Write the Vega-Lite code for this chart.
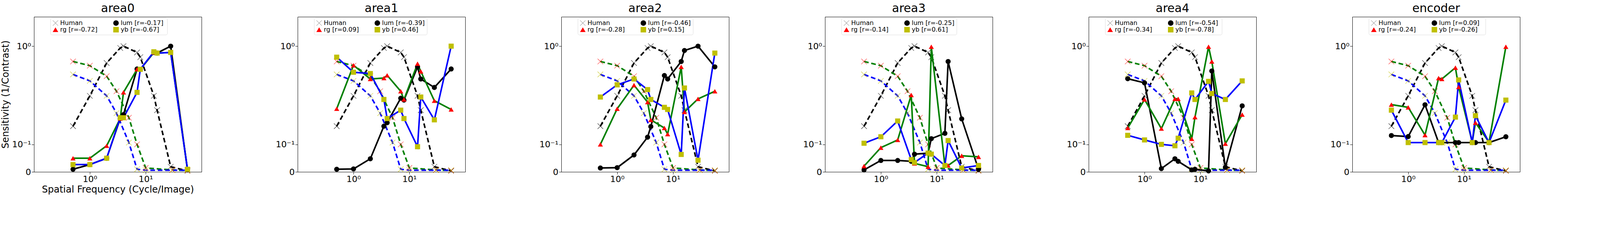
{
"$schema":"https://vega.github.io/schema/vega-lite/v6.json",
"padding":{"left":2,"top":6,"right":0,"bottom":0},
"background":"white",
"config":{"font":"DejaVu Sans","view":{"stroke":"black","strokeWidth":1},"axis":{"grid":false,"domainColor":"black","tickColor":"black","labelColor":"black","titleColor":"black","labelFont":"DejaVu Sans","titleFont":"DejaVu Sans","titleFontWeight":"normal","labelFontSize":22,"titleFontSize":24,"tickSize":6},"title":{"font":"DejaVu Sans","fontSize":30,"fontWeight":"normal","color":"black","offset":6},"legend":{"labelFont":"DejaVu Sans"}},
"spacing":188,
"resolve":{"scale":{"fill":"independent","shape":"independent","stroke":"independent"},"legend":{"fill":"independent","shape":"independent"}},
"datasets":{
"human":[
{"ch":"lum","f":0.5,"v":0.19},{"ch":"lum","f":1,"v":0.40},{"ch":"lum","f":2,"v":0.75},{"ch":"lum","f":3.5,"v":0.97},{"ch":"lum","f":4,"v":1.0},{"ch":"lum","f":7,"v":0.9},{"ch":"lum","f":8,"v":0.83},{"ch":"lum","f":14,"v":0.40},{"ch":"lum","f":16,"v":0.29},{"ch":"lum","f":28,"v":0.016},{"ch":"lum","f":56,"v":0.003},
{"ch":"rg","f":0.5,"v":0.77},{"ch":"rg","f":1,"v":0.715},{"ch":"rg","f":2,"v":0.59},{"ch":"rg","f":3,"v":0.44},{"ch":"rg","f":5,"v":0.24},{"ch":"rg","f":7,"v":0.1},{"ch":"rg","f":10,"v":0.012},{"ch":"rg","f":30,"v":0.006},{"ch":"rg","f":56,"v":0.004},
{"ch":"yb","f":0.5,"v":0.61},{"ch":"yb","f":1,"v":0.54},{"ch":"yb","f":2,"v":0.40},{"ch":"yb","f":3,"v":0.27},{"ch":"yb","f":5,"v":0.108},{"ch":"yb","f":7,"v":0.008},{"ch":"yb","f":10,"v":0.005},{"ch":"yb","f":30,"v":0.005},{"ch":"yb","f":56,"v":0.005}
],
"model":[
{"p":"area0","ch":"lum","f":0.5,"v":0.008},{"p":"area0","ch":"lum","f":1,"v":0.023},{"p":"area0","ch":"lum","f":2,"v":0.045},{"p":"area0","ch":"lum","f":3.5,"v":0.235},{"p":"area0","ch":"lum","f":4,"v":0.26},{"p":"area0","ch":"lum","f":7,"v":0.674},{"p":"area0","ch":"lum","f":8,"v":0.67},{"p":"area0","ch":"lum","f":14,"v":0.9},{"p":"area0","ch":"lum","f":16,"v":0.89},{"p":"area0","ch":"lum","f":28,"v":1.0},{"p":"area0","ch":"lum","f":56,"v":0.006},
{"p":"area0","ch":"rg","f":0.5,"v":0.045},{"p":"area0","ch":"rg","f":1,"v":0.045},{"p":"area0","ch":"rg","f":2,"v":0.094},{"p":"area0","ch":"rg","f":3.5,"v":0.235},{"p":"area0","ch":"rg","f":4,"v":0.43},{"p":"area0","ch":"rg","f":7,"v":0.67},{"p":"area0","ch":"rg","f":8,"v":0.67},{"p":"area0","ch":"rg","f":14,"v":0.9},{"p":"area0","ch":"rg","f":16,"v":0.89},{"p":"area0","ch":"rg","f":28,"v":0.9},{"p":"area0","ch":"rg","f":56,"v":0.008},
{"p":"area0","ch":"yb","f":0.5,"v":0.023},{"p":"area0","ch":"yb","f":1,"v":0.023},{"p":"area0","ch":"yb","f":2,"v":0.045},{"p":"area0","ch":"yb","f":3.5,"v":0.24},{"p":"area0","ch":"yb","f":4,"v":0.24},{"p":"area0","ch":"yb","f":7,"v":0.43},{"p":"area0","ch":"yb","f":8,"v":0.67},{"p":"area0","ch":"yb","f":14,"v":0.91},{"p":"area0","ch":"yb","f":16,"v":0.89},{"p":"area0","ch":"yb","f":28,"v":0.9},{"p":"area0","ch":"yb","f":56,"v":0.008},
{"p":"area1","ch":"lum","f":0.5,"v":0.008},{"p":"area1","ch":"lum","f":1,"v":0.009},{"p":"area1","ch":"lum","f":2,"v":0.043},{"p":"area1","ch":"lum","f":3.5,"v":0.19},{"p":"area1","ch":"lum","f":4,"v":0.21},{"p":"area1","ch":"lum","f":7,"v":0.38},{"p":"area1","ch":"lum","f":8,"v":0.365},{"p":"area1","ch":"lum","f":14,"v":0.70},{"p":"area1","ch":"lum","f":16,"v":0.56},{"p":"area1","ch":"lum","f":28,"v":0.475},{"p":"area1","ch":"lum","f":56,"v":0.674},
{"p":"area1","ch":"rg","f":0.5,"v":0.30},{"p":"area1","ch":"rg","f":1,"v":0.72},{"p":"area1","ch":"rg","f":2,"v":0.56},{"p":"area1","ch":"rg","f":3.5,"v":0.57},{"p":"area1","ch":"rg","f":4,"v":0.60},{"p":"area1","ch":"rg","f":7,"v":0.44},{"p":"area1","ch":"rg","f":8,"v":0.37},{"p":"area1","ch":"rg","f":14,"v":0.74},{"p":"area1","ch":"rg","f":16,"v":0.645},{"p":"area1","ch":"rg","f":28,"v":0.36},{"p":"area1","ch":"rg","f":56,"v":0.295},
{"p":"area1","ch":"yb","f":0.5,"v":0.83},{"p":"area1","ch":"yb","f":1,"v":0.635},{"p":"area1","ch":"yb","f":2,"v":0.62},{"p":"area1","ch":"yb","f":3.5,"v":0.37},{"p":"area1","ch":"yb","f":4,"v":0.235},{"p":"area1","ch":"yb","f":7,"v":0.29},{"p":"area1","ch":"yb","f":8,"v":0.235},{"p":"area1","ch":"yb","f":14,"v":0.09},{"p":"area1","ch":"yb","f":16,"v":0.39},{"p":"area1","ch":"yb","f":28,"v":0.227},{"p":"area1","ch":"yb","f":56,"v":1.0},
{"p":"area2","ch":"lum","f":0.5,"v":0.012},{"p":"area2","ch":"lum","f":1,"v":0.013},{"p":"area2","ch":"lum","f":2,"v":0.057},{"p":"area2","ch":"lum","f":3.5,"v":0.133},{"p":"area2","ch":"lum","f":4,"v":0.188},{"p":"area2","ch":"lum","f":7,"v":0.598},{"p":"area2","ch":"lum","f":8,"v":0.56},{"p":"area2","ch":"lum","f":14,"v":0.77},{"p":"area2","ch":"lum","f":16,"v":0.93},{"p":"area2","ch":"lum","f":28,"v":1.0},{"p":"area2","ch":"lum","f":56,"v":0.70},
{"p":"area2","ch":"rg","f":0.5,"v":0.1},{"p":"area2","ch":"rg","f":1,"v":0.30},{"p":"area2","ch":"rg","f":2,"v":0.497},{"p":"area2","ch":"rg","f":3.5,"v":0.349},{"p":"area2","ch":"rg","f":4,"v":0.227},{"p":"area2","ch":"rg","f":7,"v":0.18},{"p":"area2","ch":"rg","f":8,"v":0.148},{"p":"area2","ch":"rg","f":14,"v":0.70},{"p":"area2","ch":"rg","f":16,"v":0.278},{"p":"area2","ch":"rg","f":28,"v":0.375},{"p":"area2","ch":"rg","f":56,"v":0.44},
{"p":"area2","ch":"yb","f":0.5,"v":0.39},{"p":"area2","ch":"yb","f":1,"v":0.50},{"p":"area2","ch":"yb","f":2,"v":0.56},{"p":"area2","ch":"yb","f":3.5,"v":0.455},{"p":"area2","ch":"yb","f":4,"v":0.37},{"p":"area2","ch":"yb","f":7,"v":0.31},{"p":"area2","ch":"yb","f":8,"v":0.295},{"p":"area2","ch":"yb","f":14,"v":0.059},{"p":"area2","ch":"yb","f":16,"v":0.47},{"p":"area2","ch":"yb","f":28,"v":0.038},{"p":"area2","ch":"yb","f":56,"v":0.89},
{"p":"area3","ch":"lum","f":0.5,"v":0.006},{"p":"area3","ch":"lum","f":1,"v":0.037},{"p":"area3","ch":"lum","f":2,"v":0.037},{"p":"area3","ch":"lum","f":3.5,"v":0.034},{"p":"area3","ch":"lum","f":4,"v":0.06},{"p":"area3","ch":"lum","f":7,"v":0.064},{"p":"area3","ch":"lum","f":8,"v":0.126},{"p":"area3","ch":"lum","f":14,"v":0.152},{"p":"area3","ch":"lum","f":16,"v":0.77},{"p":"area3","ch":"lum","f":28,"v":0.233},{"p":"area3","ch":"lum","f":56,"v":0.008},
{"p":"area3","ch":"rg","f":0.5,"v":0.018},{"p":"area3","ch":"rg","f":1,"v":0.086},{"p":"area3","ch":"rg","f":2,"v":0.12},{"p":"area3","ch":"rg","f":3.5,"v":0.407},{"p":"area3","ch":"rg","f":4,"v":0.027},{"p":"area3","ch":"rg","f":7,"v":0.016},{"p":"area3","ch":"rg","f":8,"v":0.99},{"p":"area3","ch":"rg","f":14,"v":0.02},{"p":"area3","ch":"rg","f":16,"v":0.02},{"p":"area3","ch":"rg","f":28,"v":0.054},{"p":"area3","ch":"rg","f":56,"v":0.05},
{"p":"area3","ch":"yb","f":0.5,"v":0.105},{"p":"area3","ch":"yb","f":1,"v":0.135},{"p":"area3","ch":"yb","f":2,"v":0.22},{"p":"area3","ch":"yb","f":3.5,"v":0.04},{"p":"area3","ch":"yb","f":4,"v":0.03},{"p":"area3","ch":"yb","f":7,"v":0.064},{"p":"area3","ch":"yb","f":8,"v":0.06},{"p":"area3","ch":"yb","f":14,"v":0.02},{"p":"area3","ch":"yb","f":16,"v":0.117},{"p":"area3","ch":"yb","f":28,"v":0.012},{"p":"area3","ch":"yb","f":56,"v":0.02},
{"p":"area4","ch":"lum","f":0.5,"v":0.563},{"p":"area4","ch":"lum","f":1,"v":0.52},{"p":"area4","ch":"lum","f":2,"v":0.010},{"p":"area4","ch":"lum","f":3.5,"v":0.043},{"p":"area4","ch":"lum","f":4,"v":0.034},{"p":"area4","ch":"lum","f":7,"v":0.006},{"p":"area4","ch":"lum","f":8,"v":0.008},{"p":"area4","ch":"lum","f":14,"v":0.003},{"p":"area4","ch":"lum","f":16,"v":0.65},{"p":"area4","ch":"lum","f":28,"v":0.014},{"p":"area4","ch":"lum","f":56,"v":0.321},
{"p":"area4","ch":"rg","f":0.5,"v":0.18},{"p":"area4","ch":"rg","f":1,"v":0.37},{"p":"area4","ch":"rg","f":2,"v":0.177},{"p":"area4","ch":"rg","f":3.5,"v":0.375},{"p":"area4","ch":"rg","f":4,"v":0.375},{"p":"area4","ch":"rg","f":7,"v":0.125},{"p":"area4","ch":"rg","f":8,"v":0.244},{"p":"area4","ch":"rg","f":14,"v":0.99},{"p":"area4","ch":"rg","f":16,"v":0.77},{"p":"area4","ch":"rg","f":28,"v":0.103},{"p":"area4","ch":"rg","f":56,"v":0.26},
{"p":"area4","ch":"yb","f":0.5,"v":0.142},{"p":"area4","ch":"yb","f":1,"v":0.12},{"p":"area4","ch":"yb","f":2,"v":0.1},{"p":"area4","ch":"yb","f":3.5,"v":0.094},{"p":"area4","ch":"yb","f":4,"v":0.128},{"p":"area4","ch":"yb","f":7,"v":0.425},{"p":"area4","ch":"yb","f":8,"v":0.37},{"p":"area4","ch":"yb","f":14,"v":0.535},{"p":"area4","ch":"yb","f":16,"v":0.42},{"p":"area4","ch":"yb","f":28,"v":0.37},{"p":"area4","ch":"yb","f":56,"v":0.54},
{"p":"encoder","ch":"lum","f":0.5,"v":0.141},{"p":"encoder","ch":"lum","f":1,"v":0.136},{"p":"encoder","ch":"lum","f":2,"v":0.329},{"p":"encoder","ch":"lum","f":3.5,"v":0.108},{"p":"encoder","ch":"lum","f":4,"v":0.108},{"p":"encoder","ch":"lum","f":7,"v":0.108},{"p":"encoder","ch":"lum","f":8,"v":0.108},{"p":"encoder","ch":"lum","f":14,"v":0.108},{"p":"encoder","ch":"lum","f":16,"v":0.108},{"p":"encoder","ch":"lum","f":28,"v":0.108},{"p":"encoder","ch":"lum","f":56,"v":0.135},
{"p":"encoder","ch":"rg","f":0.5,"v":0.33},{"p":"encoder","ch":"rg","f":1,"v":0.31},{"p":"encoder","ch":"rg","f":2,"v":0.143},{"p":"encoder","ch":"rg","f":3.5,"v":0.57},{"p":"encoder","ch":"rg","f":4,"v":0.56},{"p":"encoder","ch":"rg","f":7,"v":0.69},{"p":"encoder","ch":"rg","f":8,"v":0.48},{"p":"encoder","ch":"rg","f":14,"v":0.11},{"p":"encoder","ch":"rg","f":16,"v":0.21},{"p":"encoder","ch":"rg","f":28,"v":0.11},{"p":"encoder","ch":"rg","f":56,"v":0.99},
{"p":"encoder","ch":"yb","f":0.5,"v":0.29},{"p":"encoder","ch":"yb","f":1,"v":0.108},{"p":"encoder","ch":"yb","f":2,"v":0.108},{"p":"encoder","ch":"yb","f":3.5,"v":0.108},{"p":"encoder","ch":"yb","f":4,"v":0.108},{"p":"encoder","ch":"yb","f":7,"v":0.244},{"p":"encoder","ch":"yb","f":8,"v":0.55},{"p":"encoder","ch":"yb","f":14,"v":0.108},{"p":"encoder","ch":"yb","f":16,"v":0.253},{"p":"encoder","ch":"yb","f":28,"v":0.108},{"p":"encoder","ch":"yb","f":56,"v":0.365}
]},
"hconcat":[
{"width":429,"height":397,"title":"area0","layer":[
{"data":{"name":"human"},"mark":{"type":"line","strokeDash":[12,7],"strokeWidth":4},"encoding":{"x":{"field":"f","type":"quantitative","scale":{"type":"log","domain":[0.39,70]},"axis":{"values":[1,10],"labelExpr":"datum.value < 5 ? '10⁰' : '10¹'","title":"Spatial Frequency (Cycle/Image)"}},"y":{"field":"v","type":"quantitative","scale":{"type":"symlog","constant":0.22,"domain":[0,1.6]},"axis":{"values":[0,0.1,1],"labelExpr":"datum.value == 0 ? '0' : datum.value < 0.5 ? '10⁻¹' : '10⁰'","title":"Sensitivity (1/Contrast)"}},"stroke":{"field":"ch","type":"nominal","scale":{"domain":["lum","rg","yb"],"range":["black","green","blue"]},"legend":null}}},
{"data":{"name":"human"},"mark":{"type":"point","filled":true,"opacity":1,"size":220,"shape":"M-1,-0.92L-0.92,-1L0,-0.08L0.92,-1L1,-0.92L0.08,0L1,0.92L0.92,1L0,0.08L-0.92,1L-1,0.92L-0.08,0Z"},"encoding":{"x":{"field":"f","type":"quantitative"},"y":{"field":"v","type":"quantitative"},"fill":{"field":"ch","type":"nominal","scale":{"domain":["Human","rg","lum","yb"],"range":["gray","red","black","#bfbf00"]}}}},
{"data":{"name":"model"},"transform":[{"filter":"datum.p == 'area0'"}],"mark":{"type":"line","strokeWidth":4},"encoding":{"x":{"field":"f","type":"quantitative"},"y":{"field":"v","type":"quantitative"},"stroke":{"field":"ch","type":"nominal","legend":null}}},
{"data":{"name":"model"},"transform":[{"filter":"datum.p == 'area0'"}],"mark":{"type":"point","filled":true,"opacity":1,"size":170},"encoding":{"x":{"field":"f","type":"quantitative"},"y":{"field":"v","type":"quantitative"},
"fill":{"field":"ch","type":"nominal","legend":{"orient":"none","legendX":42,"legendY":3,"columns":2,"columnPadding":24,"rowPadding":1,"labelFontSize":16,"symbolSize":200,"fillColor":"white","strokeColor":"#dddddd","padding":5,"cornerRadius":4,"title":null,"labelExpr":"{'Human':'Human','lum':'lum [r=-0.17]','rg':'rg    [r=-0.72]','yb':'yb    [r=-0.67]'}[datum.label]"}},
"shape":{"field":"ch","type":"nominal","scale":{"domain":["Human","rg","lum","yb"],"range":["M-1,-0.92L-0.92,-1L0,-0.08L0.92,-1L1,-0.92L0.08,0L1,0.92L0.92,1L0,0.08L-0.92,1L-1,0.92L-0.08,0Z","triangle-up","circle","square"]},"legend":{"orient":"none","legendX":42,"legendY":3,"columns":2,"columnPadding":24,"rowPadding":1,"labelFontSize":16,"symbolSize":200,"fillColor":"white","strokeColor":"#dddddd","padding":5,"cornerRadius":4,"title":null,"labelExpr":"{'Human':'Human','lum':'lum [r=-0.17]','rg':'rg    [r=-0.72]','yb':'yb    [r=-0.67]'}[datum.label]"}}}}
]},
{"width":429,"height":397,"title":"area1","layer":[
{"data":{"name":"human"},"mark":{"type":"line","strokeDash":[12,7],"strokeWidth":4},"encoding":{"x":{"field":"f","type":"quantitative","scale":{"type":"log","domain":[0.39,70]},"axis":{"values":[1,10],"labelExpr":"datum.value < 5 ? '10⁰' : '10¹'","title":null}},"y":{"field":"v","type":"quantitative","scale":{"type":"symlog","constant":0.22,"domain":[0,1.6]},"axis":{"values":[0,0.1,1],"labelExpr":"datum.value == 0 ? '0' : datum.value < 0.5 ? '10⁻¹' : '10⁰'","title":null}},"stroke":{"field":"ch","type":"nominal","scale":{"domain":["lum","rg","yb"],"range":["black","green","blue"]},"legend":null}}},
{"data":{"name":"human"},"mark":{"type":"point","filled":true,"opacity":1,"size":220,"shape":"M-1,-0.92L-0.92,-1L0,-0.08L0.92,-1L1,-0.92L0.08,0L1,0.92L0.92,1L0,0.08L-0.92,1L-1,0.92L-0.08,0Z"},"encoding":{"x":{"field":"f","type":"quantitative"},"y":{"field":"v","type":"quantitative"},"fill":{"field":"ch","type":"nominal","scale":{"domain":["Human","rg","lum","yb"],"range":["gray","red","black","#bfbf00"]}}}},
{"data":{"name":"model"},"transform":[{"filter":"datum.p == 'area1'"}],"mark":{"type":"line","strokeWidth":4},"encoding":{"x":{"field":"f","type":"quantitative"},"y":{"field":"v","type":"quantitative"},"stroke":{"field":"ch","type":"nominal","legend":null}}},
{"data":{"name":"model"},"transform":[{"filter":"datum.p == 'area1'"}],"mark":{"type":"point","filled":true,"opacity":1,"size":170},"encoding":{"x":{"field":"f","type":"quantitative"},"y":{"field":"v","type":"quantitative"},
"fill":{"field":"ch","type":"nominal","legend":{"orient":"none","legendX":42,"legendY":3,"columns":2,"columnPadding":24,"rowPadding":1,"labelFontSize":16,"symbolSize":200,"fillColor":"white","strokeColor":"#dddddd","padding":5,"cornerRadius":4,"title":null,"labelExpr":"{'Human':'Human','lum':'lum [r=-0.39]','rg':'rg    [r=0.09]','yb':'yb    [r=0.46]'}[datum.label]"}},
"shape":{"field":"ch","type":"nominal","scale":{"domain":["Human","rg","lum","yb"],"range":["M-1,-0.92L-0.92,-1L0,-0.08L0.92,-1L1,-0.92L0.08,0L1,0.92L0.92,1L0,0.08L-0.92,1L-1,0.92L-0.08,0Z","triangle-up","circle","square"]},"legend":{"orient":"none","legendX":42,"legendY":3,"columns":2,"columnPadding":24,"rowPadding":1,"labelFontSize":16,"symbolSize":200,"fillColor":"white","strokeColor":"#dddddd","padding":5,"cornerRadius":4,"title":null,"labelExpr":"{'Human':'Human','lum':'lum [r=-0.39]','rg':'rg    [r=0.09]','yb':'yb    [r=0.46]'}[datum.label]"}}}}
]},
{"width":429,"height":397,"title":"area2","layer":[
{"data":{"name":"human"},"mark":{"type":"line","strokeDash":[12,7],"strokeWidth":4},"encoding":{"x":{"field":"f","type":"quantitative","scale":{"type":"log","domain":[0.39,70]},"axis":{"values":[1,10],"labelExpr":"datum.value < 5 ? '10⁰' : '10¹'","title":null}},"y":{"field":"v","type":"quantitative","scale":{"type":"symlog","constant":0.22,"domain":[0,1.6]},"axis":{"values":[0,0.1,1],"labelExpr":"datum.value == 0 ? '0' : datum.value < 0.5 ? '10⁻¹' : '10⁰'","title":null}},"stroke":{"field":"ch","type":"nominal","scale":{"domain":["lum","rg","yb"],"range":["black","green","blue"]},"legend":null}}},
{"data":{"name":"human"},"mark":{"type":"point","filled":true,"opacity":1,"size":220,"shape":"M-1,-0.92L-0.92,-1L0,-0.08L0.92,-1L1,-0.92L0.08,0L1,0.92L0.92,1L0,0.08L-0.92,1L-1,0.92L-0.08,0Z"},"encoding":{"x":{"field":"f","type":"quantitative"},"y":{"field":"v","type":"quantitative"},"fill":{"field":"ch","type":"nominal","scale":{"domain":["Human","rg","lum","yb"],"range":["gray","red","black","#bfbf00"]}}}},
{"data":{"name":"model"},"transform":[{"filter":"datum.p == 'area2'"}],"mark":{"type":"line","strokeWidth":4},"encoding":{"x":{"field":"f","type":"quantitative"},"y":{"field":"v","type":"quantitative"},"stroke":{"field":"ch","type":"nominal","legend":null}}},
{"data":{"name":"model"},"transform":[{"filter":"datum.p == 'area2'"}],"mark":{"type":"point","filled":true,"opacity":1,"size":170},"encoding":{"x":{"field":"f","type":"quantitative"},"y":{"field":"v","type":"quantitative"},
"fill":{"field":"ch","type":"nominal","legend":{"orient":"none","legendX":42,"legendY":3,"columns":2,"columnPadding":24,"rowPadding":1,"labelFontSize":16,"symbolSize":200,"fillColor":"white","strokeColor":"#dddddd","padding":5,"cornerRadius":4,"title":null,"labelExpr":"{'Human':'Human','lum':'lum [r=-0.46]','rg':'rg    [r=-0.28]','yb':'yb    [r=0.15]'}[datum.label]"}},
"shape":{"field":"ch","type":"nominal","scale":{"domain":["Human","rg","lum","yb"],"range":["M-1,-0.92L-0.92,-1L0,-0.08L0.92,-1L1,-0.92L0.08,0L1,0.92L0.92,1L0,0.08L-0.92,1L-1,0.92L-0.08,0Z","triangle-up","circle","square"]},"legend":{"orient":"none","legendX":42,"legendY":3,"columns":2,"columnPadding":24,"rowPadding":1,"labelFontSize":16,"symbolSize":200,"fillColor":"white","strokeColor":"#dddddd","padding":5,"cornerRadius":4,"title":null,"labelExpr":"{'Human':'Human','lum':'lum [r=-0.46]','rg':'rg    [r=-0.28]','yb':'yb    [r=0.15]'}[datum.label]"}}}}
]},
{"width":429,"height":397,"title":"area3","layer":[
{"data":{"name":"human"},"mark":{"type":"line","strokeDash":[12,7],"strokeWidth":4},"encoding":{"x":{"field":"f","type":"quantitative","scale":{"type":"log","domain":[0.39,70]},"axis":{"values":[1,10],"labelExpr":"datum.value < 5 ? '10⁰' : '10¹'","title":null}},"y":{"field":"v","type":"quantitative","scale":{"type":"symlog","constant":0.22,"domain":[0,1.6]},"axis":{"values":[0,0.1,1],"labelExpr":"datum.value == 0 ? '0' : datum.value < 0.5 ? '10⁻¹' : '10⁰'","title":null}},"stroke":{"field":"ch","type":"nominal","scale":{"domain":["lum","rg","yb"],"range":["black","green","blue"]},"legend":null}}},
{"data":{"name":"human"},"mark":{"type":"point","filled":true,"opacity":1,"size":220,"shape":"M-1,-0.92L-0.92,-1L0,-0.08L0.92,-1L1,-0.92L0.08,0L1,0.92L0.92,1L0,0.08L-0.92,1L-1,0.92L-0.08,0Z"},"encoding":{"x":{"field":"f","type":"quantitative"},"y":{"field":"v","type":"quantitative"},"fill":{"field":"ch","type":"nominal","scale":{"domain":["Human","rg","lum","yb"],"range":["gray","red","black","#bfbf00"]}}}},
{"data":{"name":"model"},"transform":[{"filter":"datum.p == 'area3'"}],"mark":{"type":"line","strokeWidth":4},"encoding":{"x":{"field":"f","type":"quantitative"},"y":{"field":"v","type":"quantitative"},"stroke":{"field":"ch","type":"nominal","legend":null}}},
{"data":{"name":"model"},"transform":[{"filter":"datum.p == 'area3'"}],"mark":{"type":"point","filled":true,"opacity":1,"size":170},"encoding":{"x":{"field":"f","type":"quantitative"},"y":{"field":"v","type":"quantitative"},
"fill":{"field":"ch","type":"nominal","legend":{"orient":"none","legendX":42,"legendY":3,"columns":2,"columnPadding":24,"rowPadding":1,"labelFontSize":16,"symbolSize":200,"fillColor":"white","strokeColor":"#dddddd","padding":5,"cornerRadius":4,"title":null,"labelExpr":"{'Human':'Human','lum':'lum [r=-0.25]','rg':'rg    [r=-0.14]','yb':'yb    [r=0.61]'}[datum.label]"}},
"shape":{"field":"ch","type":"nominal","scale":{"domain":["Human","rg","lum","yb"],"range":["M-1,-0.92L-0.92,-1L0,-0.08L0.92,-1L1,-0.92L0.08,0L1,0.92L0.92,1L0,0.08L-0.92,1L-1,0.92L-0.08,0Z","triangle-up","circle","square"]},"legend":{"orient":"none","legendX":42,"legendY":3,"columns":2,"columnPadding":24,"rowPadding":1,"labelFontSize":16,"symbolSize":200,"fillColor":"white","strokeColor":"#dddddd","padding":5,"cornerRadius":4,"title":null,"labelExpr":"{'Human':'Human','lum':'lum [r=-0.25]','rg':'rg    [r=-0.14]','yb':'yb    [r=0.61]'}[datum.label]"}}}}
]},
{"width":429,"height":397,"title":"area4","layer":[
{"data":{"name":"human"},"mark":{"type":"line","strokeDash":[12,7],"strokeWidth":4},"encoding":{"x":{"field":"f","type":"quantitative","scale":{"type":"log","domain":[0.39,70]},"axis":{"values":[1,10],"labelExpr":"datum.value < 5 ? '10⁰' : '10¹'","title":null}},"y":{"field":"v","type":"quantitative","scale":{"type":"symlog","constant":0.22,"domain":[0,1.6]},"axis":{"values":[0,0.1,1],"labelExpr":"datum.value == 0 ? '0' : datum.value < 0.5 ? '10⁻¹' : '10⁰'","title":null}},"stroke":{"field":"ch","type":"nominal","scale":{"domain":["lum","rg","yb"],"range":["black","green","blue"]},"legend":null}}},
{"data":{"name":"human"},"mark":{"type":"point","filled":true,"opacity":1,"size":220,"shape":"M-1,-0.92L-0.92,-1L0,-0.08L0.92,-1L1,-0.92L0.08,0L1,0.92L0.92,1L0,0.08L-0.92,1L-1,0.92L-0.08,0Z"},"encoding":{"x":{"field":"f","type":"quantitative"},"y":{"field":"v","type":"quantitative"},"fill":{"field":"ch","type":"nominal","scale":{"domain":["Human","rg","lum","yb"],"range":["gray","red","black","#bfbf00"]}}}},
{"data":{"name":"model"},"transform":[{"filter":"datum.p == 'area4'"}],"mark":{"type":"line","strokeWidth":4},"encoding":{"x":{"field":"f","type":"quantitative"},"y":{"field":"v","type":"quantitative"},"stroke":{"field":"ch","type":"nominal","legend":null}}},
{"data":{"name":"model"},"transform":[{"filter":"datum.p == 'area4'"}],"mark":{"type":"point","filled":true,"opacity":1,"size":170},"encoding":{"x":{"field":"f","type":"quantitative"},"y":{"field":"v","type":"quantitative"},
"fill":{"field":"ch","type":"nominal","legend":{"orient":"none","legendX":42,"legendY":3,"columns":2,"columnPadding":24,"rowPadding":1,"labelFontSize":16,"symbolSize":200,"fillColor":"white","strokeColor":"#dddddd","padding":5,"cornerRadius":4,"title":null,"labelExpr":"{'Human':'Human','lum':'lum [r=-0.54]','rg':'rg    [r=-0.34]','yb':'yb    [r=-0.78]'}[datum.label]"}},
"shape":{"field":"ch","type":"nominal","scale":{"domain":["Human","rg","lum","yb"],"range":["M-1,-0.92L-0.92,-1L0,-0.08L0.92,-1L1,-0.92L0.08,0L1,0.92L0.92,1L0,0.08L-0.92,1L-1,0.92L-0.08,0Z","triangle-up","circle","square"]},"legend":{"orient":"none","legendX":42,"legendY":3,"columns":2,"columnPadding":24,"rowPadding":1,"labelFontSize":16,"symbolSize":200,"fillColor":"white","strokeColor":"#dddddd","padding":5,"cornerRadius":4,"title":null,"labelExpr":"{'Human':'Human','lum':'lum [r=-0.54]','rg':'rg    [r=-0.34]','yb':'yb    [r=-0.78]'}[datum.label]"}}}}
]},
{"width":429,"height":397,"title":"encoder","layer":[
{"data":{"name":"human"},"mark":{"type":"line","strokeDash":[12,7],"strokeWidth":4},"encoding":{"x":{"field":"f","type":"quantitative","scale":{"type":"log","domain":[0.39,70]},"axis":{"values":[1,10],"labelExpr":"datum.value < 5 ? '10⁰' : '10¹'","title":null}},"y":{"field":"v","type":"quantitative","scale":{"type":"symlog","constant":0.22,"domain":[0,1.6]},"axis":{"values":[0,0.1,1],"labelExpr":"datum.value == 0 ? '0' : datum.value < 0.5 ? '10⁻¹' : '10⁰'","title":null}},"stroke":{"field":"ch","type":"nominal","scale":{"domain":["lum","rg","yb"],"range":["black","green","blue"]},"legend":null}}},
{"data":{"name":"human"},"mark":{"type":"point","filled":true,"opacity":1,"size":220,"shape":"M-1,-0.92L-0.92,-1L0,-0.08L0.92,-1L1,-0.92L0.08,0L1,0.92L0.92,1L0,0.08L-0.92,1L-1,0.92L-0.08,0Z"},"encoding":{"x":{"field":"f","type":"quantitative"},"y":{"field":"v","type":"quantitative"},"fill":{"field":"ch","type":"nominal","scale":{"domain":["Human","rg","lum","yb"],"range":["gray","red","black","#bfbf00"]}}}},
{"data":{"name":"model"},"transform":[{"filter":"datum.p == 'encoder'"}],"mark":{"type":"line","strokeWidth":4},"encoding":{"x":{"field":"f","type":"quantitative"},"y":{"field":"v","type":"quantitative"},"stroke":{"field":"ch","type":"nominal","legend":null}}},
{"data":{"name":"model"},"transform":[{"filter":"datum.p == 'encoder'"}],"mark":{"type":"point","filled":true,"opacity":1,"size":170},"encoding":{"x":{"field":"f","type":"quantitative"},"y":{"field":"v","type":"quantitative"},
"fill":{"field":"ch","type":"nominal","legend":{"orient":"none","legendX":42,"legendY":3,"columns":2,"columnPadding":24,"rowPadding":1,"labelFontSize":16,"symbolSize":200,"fillColor":"white","strokeColor":"#dddddd","padding":5,"cornerRadius":4,"title":null,"labelExpr":"{'Human':'Human','lum':'lum [r=0.09]','rg':'rg    [r=-0.24]','yb':'yb    [r=-0.26]'}[datum.label]"}},
"shape":{"field":"ch","type":"nominal","scale":{"domain":["Human","rg","lum","yb"],"range":["M-1,-0.92L-0.92,-1L0,-0.08L0.92,-1L1,-0.92L0.08,0L1,0.92L0.92,1L0,0.08L-0.92,1L-1,0.92L-0.08,0Z","triangle-up","circle","square"]},"legend":{"orient":"none","legendX":42,"legendY":3,"columns":2,"columnPadding":24,"rowPadding":1,"labelFontSize":16,"symbolSize":200,"fillColor":"white","strokeColor":"#dddddd","padding":5,"cornerRadius":4,"title":null,"labelExpr":"{'Human':'Human','lum':'lum [r=0.09]','rg':'rg    [r=-0.24]','yb':'yb    [r=-0.26]'}[datum.label]"}}}}
]}
]
}
